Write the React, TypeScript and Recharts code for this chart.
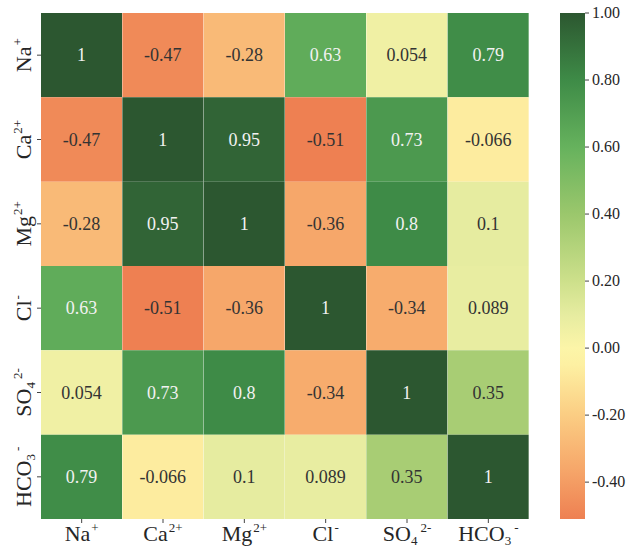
import { BarChart, Bar, XAxis, YAxis, Cell, LabelList } from 'recharts'

// ions, in matrix order
const ION_BASE = ['Na', 'Ca', 'Mg', 'Cl', 'SO', 'HCO']
const ION_SUB = ['', '', '', '', '4', '3']
const ION_SUP = ['+', '2+', '2+', '-', '2-', '-']

// correlation matrix, rows top to bottom, columns left to right
const NA_ROW = [1, -0.47, -0.28, 0.63, 0.054, 0.79]
const CA_ROW = [-0.47, 1, 0.95, -0.51, 0.73, -0.066]
const MG_ROW = [-0.28, 0.95, 1, -0.36, 0.8, 0.1]
const CL_ROW = [0.63, -0.51, -0.36, 1, -0.34, 0.089]
const SO4_ROW = [0.054, 0.73, 0.8, -0.34, 1, 0.35]
const HCO3_ROW = [0.79, -0.066, 0.1, 0.089, 0.35, 1]
const MATRIX = [NA_ROW, CA_ROW, MG_ROW, CL_ROW, SO4_ROW, HCO3_ROW]

const VMIN = -0.51
const VMAX = 1
const CB_TICKS = [-0.4, -0.2, 0, 0.2, 0.4, 0.6, 0.8, 1.0]
const ROW_TICKS = [0.5, 1.5, 2.5, 3.5, 4.5, 5.5]

// colormap stops (value, colour)
const STOPS: [number, string][] = [
  [-0.51, '#ee8052'],
  [-0.36, '#f6a76a'],
  [-0.2, '#fbcd83'],
  [-0.05, '#fdf0a2'],
  [0, '#fcf5a8'],
  [0.1, '#e6eca0'],
  [0.2, '#cde08b'],
  [0.4, '#9bc76c'],
  [0.6, '#66b25d'],
  [0.8, '#3e8b47'],
  [1, '#2c5730'],
]

const FONT = '"Liberation Serif", "Times New Roman", serif'
const TEXT = '#262626'

function hexToRgb(h: string) {
  return [1, 3, 5].map(i => parseInt(h.slice(i, i + 2), 16))
}

function colorFor(v: number) {
  if (v <= STOPS[0][0]) return STOPS[0][1]
  for (let k = 0; k < STOPS.length - 1; k++) {
    const [v0, c0] = STOPS[k]
    const [v1, c1] = STOPS[k + 1]
    if (v >= v0 && v <= v1) {
      const t = (v - v0) / (v1 - v0)
      const a = hexToRgb(c0)
      const b = hexToRgb(c1)
      const m = a.map((x, i) => Math.round(x + (b[i] - x) * t))
      return `rgb(${m[0]},${m[1]},${m[2]})`
    }
  }
  return STOPS[STOPS.length - 1][1]
}

const tableData = ION_BASE.map((ion, j) => {
  const row: Record<string, number | string> = { ion: String(j) }
  MATRIX.forEach((_, i) => { row[`r${i}`] = 1 })
  return row
})

const cbData = [{ k: 'cb', range: [VMIN, VMAX] }]

function ionParts(i: number) {
  const sub = ION_SUB[i]
  return (
    <>
      <tspan>{ION_BASE[i]}</tspan>
      {sub && <tspan fontSize={13} dy={4}>{sub}</tspan>}
      <tspan fontSize={13} dx={sub ? 3 : 1} dy={sub ? -13 : -9}>{ION_SUP[i]}</tspan>
    </>
  )
}

function XTick(props: any) {
  const { x, y, payload } = props
  const i = Number(payload.value)
  return (
    <text x={x} y={y + 16} textAnchor="middle" fontSize={22} fontFamily={FONT} fill={TEXT}>
      {ionParts(i)}
    </text>
  )
}

function YTick(props: any) {
  const { x, y, payload } = props
  const i = Math.floor(payload.value)
  return (
    <g transform={`translate(${x - 4},${y}) rotate(-90)`}>
      <text x={0} y={0} textAnchor="middle" fontSize={22} fontFamily={FONT} fill={TEXT}>
        {ionParts(i)}
      </text>
    </g>
  )
}

function CbTick(props: any) {
  const { x, y, payload } = props
  return (
    <text x={x} y={y} dy={5} textAnchor="start" fontSize={16} fontFamily={FONT} fill={TEXT}>
      {Number(payload.value).toFixed(2)}
    </text>
  )
}

function cellLabel(rowIdx: number) {
  return (props: any) => {
    const { x, y, width, height, index } = props
    const v = MATRIX[rowIdx][index]
    return (
      <text
        x={Number(x) + Number(width) / 2}
        y={Number(y) + Number(height) / 2}
        textAnchor="middle"
        dominantBaseline="central"
        fontSize={18}
        fontFamily={FONT}
        fill={v >= 0.6 ? '#f2f2f2' : '#333333'}
      >
        {String(v)}
      </text>
    )
  }
}

export default function App() {
  return (
    <div style={{ position: 'fixed', left: 0, top: 0, width: 630, height: 547, background: '#fff' }}>
      <div style={{ position: 'absolute', left: 0, top: 0 }}>
        <BarChart
          width={530}
          height={547}
          data={tableData}
          margin={{ top: 13, right: 1, bottom: 0, left: 0 }}
          barCategoryGap={0}
          barGap={0}
        >
          <XAxis
            dataKey="ion"
            height={28}
            interval={0}
            axisLine={false}
            tickSize={4}
            tickLine={{ stroke: '#444' }}
            tick={<XTick />}
          />
          <YAxis
            type="number"
            domain={[0, 6]}
            reversed
            ticks={ROW_TICKS}
            width={41}
            axisLine={false}
            tickSize={4}
            tickLine={{ stroke: '#444' }}
            tick={<YTick />}
          />
          {MATRIX.map((row, i) => (
            <Bar key={i} dataKey={`r${i}`} stackId="a" isAnimationActive={false}>
              {row.map((v, j) => (
                <Cell key={j} fill={colorFor(v)} />
              ))}
              <LabelList dataKey={`r${i}`} content={cellLabel(i)} />
            </Bar>
          ))}
        </BarChart>
      </div>
      <div style={{ position: 'absolute', left: 560, top: 0 }}>
        <BarChart
          width={70}
          height={547}
          data={cbData}
          margin={{ top: 13, right: 0, bottom: 28, left: 0 }}
          barCategoryGap={0}
        >
          <defs>
            <linearGradient id="cbGrad" x1="0" y1="0" x2="0" y2="1">
              {[...STOPS].reverse().map(([v, c]) => (
                <stop key={v} offset={(VMAX - v) / (VMAX - VMIN)} stopColor={c} />
              ))}
            </linearGradient>
          </defs>
          <XAxis dataKey="k" hide />
          <YAxis
            orientation="right"
            type="number"
            domain={[VMIN, VMAX]}
            ticks={CB_TICKS}
            width={45}
            axisLine={false}
            tickSize={4}
            tickMargin={3}
            tickLine={{ stroke: '#444' }}
            tick={<CbTick />}
          />
          <Bar dataKey="range" fill="url(#cbGrad)" isAnimationActive={false} />
        </BarChart>
      </div>
    </div>
  )
}
